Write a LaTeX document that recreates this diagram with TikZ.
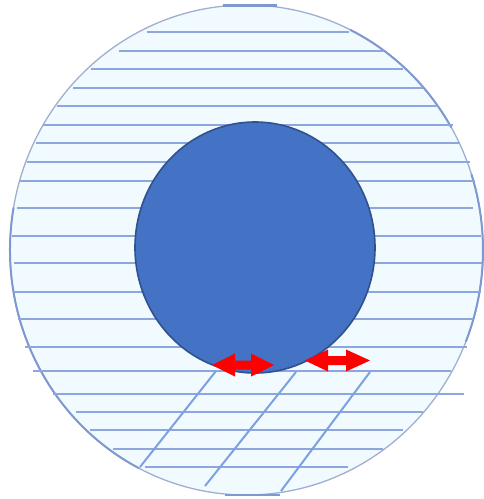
\documentclass[tikz,border=0pt]{standalone}
\begin{document}
\begin{tikzpicture}[x=1pt,y=-1pt]
\definecolor{paleFill}{HTML}{F1FAFE}
\definecolor{hatch}{HTML}{8DA6DE}
\definecolor{diag}{HTML}{7CA0E2}
\definecolor{rimCol}{HTML}{A0AFCF}
\definecolor{rimDark}{HTML}{7F98CF}
\definecolor{core}{HTML}{4472C4}
\definecolor{coreEdge}{HTML}{2F528F}
\tikzset{
  hatchline/.style={draw=hatch, line width=1.9pt},
  diagline/.style={draw=diag, line width=2pt},
  rimarc/.style={draw=rimDark, line width=2pt},
  redarrow/.style={fill=red, draw=none}
}
\useasboundingbox (0,0) rectangle (484,499);
% outer disc
\fill[paleFill] (246.5,250) ellipse [x radius=236.5, y radius=245];
\draw[rimCol, line width=1.3pt] (246.5,250) ellipse [x radius=236.5, y radius=245];
% darker rim pieces
\draw[rimarc] (246.5,250) ++(-64:236.5 and 245) arc[start angle=-64, end angle=-30, x radius=236.5, y radius=245];
\draw[rimarc] (246.5,250) ++(-18:236.5 and 245) arc[start angle=-18, end angle=22, x radius=236.5, y radius=245];
\draw[rimarc] (246.5,250) ++(117:236.5 and 245) arc[start angle=117, end angle=190, x radius=236.5, y radius=245];
\draw[rimDark, line width=2.2pt] (223,5.5) -- (277,5.5);
\draw[rimDark, line width=2pt] (225,494.5) -- (280,494.5);
% horizontal hatch lines
\foreach \yy/\xa/\xb in {32/147/349, 51/119/383, 69/91/403, 88/73/423, 106/57/439,
  125/43/453, 143/36/460, 162/27/470, 181/20/475, 208/17/473, 236/12/481,
  263/14/482, 292/14/481, 319/18/473, 347/25/467, 371/33/451, 394/53/464,
  412/76/423, 430/90/403, 449/113/383, 467/145/348}
  \draw[hatchline] (\xa,\yy) -- (\xb,\yy);
% diagonal lines
\draw[diagline] (140,467) -- (216,371);
\draw[diagline] (205,486) -- (296,372);
\draw[diagline] (281,491) -- (370,372);
% inner disc
\draw[fill=core, draw=coreEdge, line width=1.6pt] (255,247.5) ellipse [x radius=120, y radius=125.5];
% red double arrows
\fill[redarrow] (212,365) -- (235,353.5) -- (235,360.5) -- (251,360.5) -- (251,353.5) -- (274,365)
  -- (251,376.5) -- (251,369.5) -- (235,369.5) -- (235,376.5) -- cycle;
\fill[redarrow] (305,360.5) -- (328,349.5) -- (328,356) -- (346,356) -- (346,349.5) -- (370,360.5)
  -- (346,371.5) -- (346,365) -- (328,365) -- (328,371.5) -- cycle;
\end{tikzpicture}
\end{document}
